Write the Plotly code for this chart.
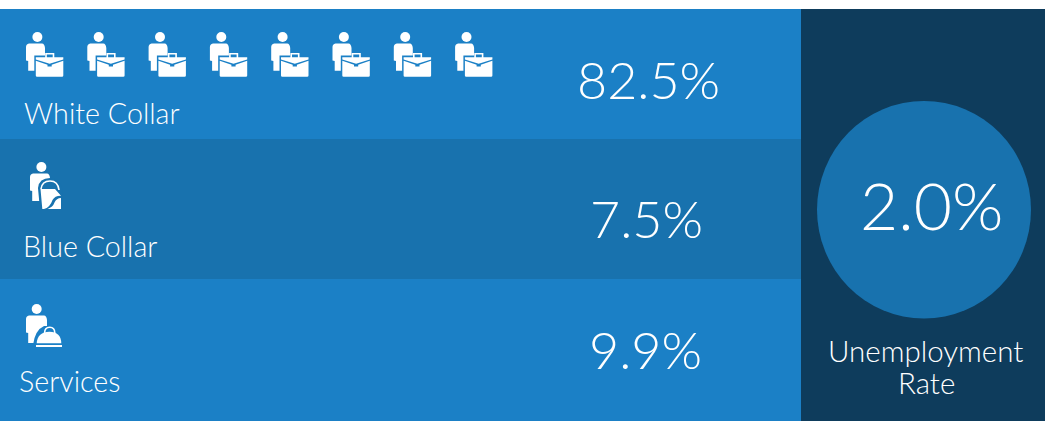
import plotly.graph_objects as go

categories = ["White Collar", "Blue Collar", "Services"]
values = ["82.5%", "7.5%", "9.9%"]
icon_counts = [8, 1, 1]
rate_lines = ["Unemployment", "Rate"]
rate_value = "2.0%"

BLUE = "#1b80c6"
BLUE_D = "#1872ae"
NAVY = "#0e3c5c"
WHITE = "#ffffff"
FONT = "Lato"

bands = [(9, 139, BLUE), (139, 279, BLUE_D), (279, 421, BLUE)]
label_pos = [(22, 113), (21, 246), (17, 381)]
value_pos = [(648, 79), (646.5, 217.5), (645, 349)]
icon_origin = [(26, 32), (30, 162), (26, 304)]
ICON_STEP = 61.3

shapes = []


def rect(x0, y0, x1, y1, color):
    shapes.append(dict(type="rect", xref="x", yref="y", x0=x0, y0=y0, x1=x1, y1=y1,
                       fillcolor=color, line=dict(width=0), layer="below"))


def path(d, fill=WHITE, stroke=None, w=0):
    shapes.append(dict(type="path", xref="x", yref="y", path=d, fillcolor=fill,
                       line=dict(color=stroke or "rgba(0,0,0,0)", width=w), layer="above"))


def circle(cx, cy, r, fill=WHITE):
    shapes.append(dict(type="circle", xref="x", yref="y", x0=cx - r, x1=cx + r,
                       y0=cy - r, y1=cy + r, fillcolor=fill, line=dict(width=0), layer="above"))


def P(ox, oy, seq):
    out = []
    for item in seq:
        if isinstance(item, str):
            out.append(item)
        else:
            out.append(f"{ox + item[0]:.1f},{oy + item[1]:.1f}")
    return " ".join(out)


def person(ox, oy, head_x=11.4, body_w=19, bottom=38.7):
    circle(ox + head_x, oy + 5, 5)
    path(P(ox, oy, ["M", (3, 11.5), "L", (body_w - 3, 11.5), "Q", (body_w - 0.5, 11.5),
                    (body_w, 16), "L", (body_w, bottom), "L", (2.2, bottom), "L", (2.2, 29),
                    "L", (0, 28.5), "L", (0, 15), "Q", (0, 12), (3, 11.5), "Z"]))


def white_collar(ox, oy):
    person(ox, oy, body_w=19)
    # clear space round the case
    path(P(ox, oy, ["M", (8.3, 23.5), "L", (39, 23.5), "L", (39, 46), "L", (8.3, 46), "Z"]), fill=BLUE)
    # handle
    path(P(ox, oy, ["M", (20, 26), "L", (20, 21.8), "L", (27.5, 21.8), "L", (27.5, 26)]),
         fill="rgba(0,0,0,0)", stroke=WHITE, w=1.6)
    # lid
    path(P(ox, oy, ["M", (9.8, 25.2), "L", (37.3, 25.2), "L", (37.3, 27.5), "L", (23.6, 31.8),
                    "L", (9.8, 27.5), "Z"]))
    # body
    path(P(ox, oy, ["M", (9.8, 28.8), "L", (21.5, 32.7), "L", (21.5, 34.5), "L", (25.7, 34.5), "L", (25.7, 32.7),
                    "L", (37.3, 28.8), "L", (37.3, 43.5), "Q", (37.3, 44.8), (36, 44.8), "L", (11.1, 44.8),
                    "Q", (9.8, 44.8), (9.8, 43.5), "Z"]))


def blue_collar(ox, oy):
    person(ox, oy, body_w=20, bottom=39)
    # clear space round the bag
    path(P(ox, oy, ["M", (8, 26), "Q", (9, 16), (20, 16), "Q", (29, 16), (32, 26), "L", (33, 48), "L", (10, 48), "Z"]),
         fill=BLUE_D)
    # handle
    path(P(ox, oy, ["M", (11, 27), "Q", (12, 19), (20, 19), "Q", (28, 19), (29, 28)]),
         fill="rgba(0,0,0,0)", stroke=WHITE, w=1.6)
    # top of the bag
    path(P(ox, oy, ["M", (10.5, 27), "L", (25, 27), "L", (31, 33.7), "Q", (25, 33.5), (22.5, 38),
                    "Q", (20, 45.5), (14, 47), "L", (12.3, 47), "Z"]))
    # bottom right of the bag
    path(P(ox, oy, ["M", (31, 36), "L", (31, 47), "L", (17.5, 47), "Q", (23, 45), (24.5, 40.5),
                    "Q", (26.5, 36), (31, 36), "Z"]))


def services(ox, oy):
    person(ox, oy, head_x=10.7, body_w=21, bottom=39)
    # clear space round the cloche
    path(P(ox, oy, ["M", (7, 41), "Q", (9, 26), (18, 22), "L", (38, 22), "L", (38, 46), "L", (7, 46), "Z"]), fill=BLUE)
    # knob ring
    path(P(ox, oy, ["M", (18.6, 29), "Q", (18.6, 23.2), (23.7, 23.2), "Q", (28.8, 23.2), (28.8, 29)]),
         fill="rgba(0,0,0,0)", stroke=WHITE, w=1.6)
    # dome
    path(P(ox, oy, ["M", (10.7, 39.3), "Q", (11.5, 27.7), (23.5, 27.7), "Q", (35, 27.7), (35.3, 39.3), "Z"]))
    # tray
    path(P(ox, oy, ["M", (10, 41), "L", (36, 41), "L", (36, 43), "L", (10, 43), "Z"]))


# backgrounds
for y0, y1, c in bands:
    rect(0, y0, 801, y1, c)
rect(801, 9, 1045, 421, NAVY)
shapes.append(dict(type="circle", xref="x", yref="y", x0=817, x1=1031, y0=101, y1=318.5,
                   fillcolor=BLUE_D, line=dict(width=0), layer="below"))

# pictograms
for i, (ox, oy) in enumerate(icon_origin):
    for n in range(icon_counts[i]):
        x = ox + n * ICON_STEP
        if categories[i] == "White Collar":
            white_collar(x, oy)
        elif categories[i] == "Blue Collar":
            blue_collar(x, oy)
        else:
            services(x, oy)

annotations = []


def text(x, y, s, size, anchor="left"):
    annotations.append(dict(x=x, y=y, xref="x", yref="y", text=s, showarrow=False, xanchor=anchor,
                            yanchor="middle", align="center" if anchor == "center" else "left",
                            font=dict(family=FONT, size=size, color=WHITE, weight=300)))


for c, (x, y) in zip(categories, label_pos):
    text(x, y, c, 28.7)
for v, (x, y) in zip(values, value_pos):
    text(x, y, v, 52, "center")
text(931, 204, rate_value, 66, "center")
text(925.5, 350, rate_lines[0], 29.5, "center")
text(926, 382.5, rate_lines[1], 29.5, "center")

fig = go.Figure()
fig.update_layout(
    width=1045, height=430, margin=dict(l=0, r=0, t=0, b=0),
    paper_bgcolor="white", plot_bgcolor="white", showlegend=False,
    xaxis=dict(range=[0, 1045], visible=False, fixedrange=True),
    yaxis=dict(range=[430, 0], visible=False, fixedrange=True),
    shapes=shapes, annotations=annotations,
)
fig.write_html("out.html", config={"displayModeBar": False},
               post_script="document.body.style.margin='0';document.body.style.overflow='hidden';")
